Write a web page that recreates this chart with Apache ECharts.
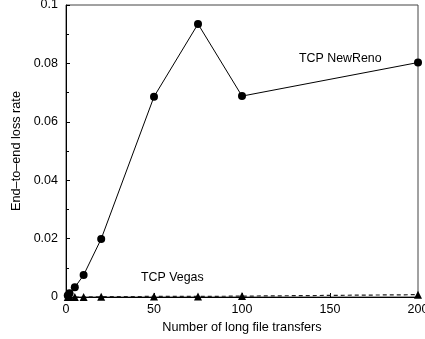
<!DOCTYPE html>
<html>
<head>
<meta charset="utf-8">
<script src="https://cdn.jsdelivr.net/npm/echarts@6/dist/echarts.min.js"></script>
<style>
  html, body { margin: 0; padding: 0; background: #fff; }
  #chart { width: 425px; height: 339px; }
</style>
</head>
<body>
<div id="chart"></div>
<script>
// Number of long file transfers
const transfers = [1, 2, 5, 10, 20, 50, 75, 100, 200];
// End-to-end loss rate per TCP variant
const newRenoLoss = [0.0005, 0.0013, 0.0033, 0.0075, 0.0199, 0.0686, 0.0935, 0.0688, 0.0803];
const vegasLoss   = [0.0, 0.0, 0.0, 0.0, 0.0001, 0.0002, 0.0002, 0.0003, 0.0008];
const xTicks = [0, 50, 100, 150, 200];
const yTicks = [0, 0.02, 0.04, 0.06, 0.08, 0.1];

const font = '"Liberation Sans", Arial, Helvetica, sans-serif';
const pairs = (xs, ys) => xs.map((x, i) => [x, ys[i]]);

const chart = echarts.init(document.getElementById('chart'));
chart.setOption({
  animation: false,
  backgroundColor: '#fff',
  grid: {
    left: 66, right: 7, top: 5, bottom: 42,
    outerBoundsMode: 'none', containLabel: false,
    show: true, borderColor: '#444', borderWidth: 1
  },
  xAxis: {
    type: 'value', min: xTicks[0], max: xTicks[xTicks.length - 1], interval: 50,
    name: 'Number of long file transfers', nameLocation: 'middle', nameGap: 24,
    nameTextStyle: { fontFamily: font, fontSize: 12.7, color: '#000' },
    axisLine: { show: true, lineStyle: { color: '#000', width: 1 } },
    axisTick: { show: true, inside: true, length: 4, lineStyle: { color: '#000' } },
    axisLabel: { fontFamily: font, fontSize: 12.5, color: '#000', margin: 6, showMaxLabel: true, hideOverlap: false },
    splitLine: { show: false }
  },
  yAxis: {
    type: 'value', min: yTicks[0], max: yTicks[yTicks.length - 1], interval: 0.02,
    name: 'End\u2013to\u2013end loss rate', nameLocation: 'middle', nameGap: 42,
    nameTextStyle: { fontFamily: font, fontSize: 12.7, color: '#000' },
    axisLine: { show: true, lineStyle: { color: '#000', width: 1 } },
    axisTick: { show: true, inside: true, length: 4, lineStyle: { color: '#000' } },
    minorTick: { show: true, splitNumber: 2, length: 3, lineStyle: { color: '#000' } },
    axisLabel: { fontFamily: font, fontSize: 12.5, color: '#000', margin: 8,
      formatter: v => String(Math.round(v * 100) / 100) },
    splitLine: { show: false }
  },
  series: [
    {
      name: 'TCP NewReno', type: 'line', data: pairs(transfers, newRenoLoss),
      symbol: 'circle', symbolSize: 8, showAllSymbol: true,
      lineStyle: { color: '#000', width: 1 }, itemStyle: { color: '#000' }
    },
    {
      name: 'TCP Vegas', type: 'line', data: pairs(transfers, vegasLoss),
      symbol: 'triangle', symbolSize: 8, showAllSymbol: true,
      lineStyle: { color: '#222', width: 1.2, type: [4, 3] }, itemStyle: { color: '#000' }
    }
  ],
  graphic: [
    { type: 'text', left: 299, top: 53, style: { text: 'TCP NewReno', fontFamily: font, fontSize: 12.4, fill: '#000' } },
    { type: 'text', left: 141, top: 272, style: { text: 'TCP Vegas', fontFamily: font, fontSize: 12.4, fill: '#000' } }
  ]
});
</script>
</body>
</html>
